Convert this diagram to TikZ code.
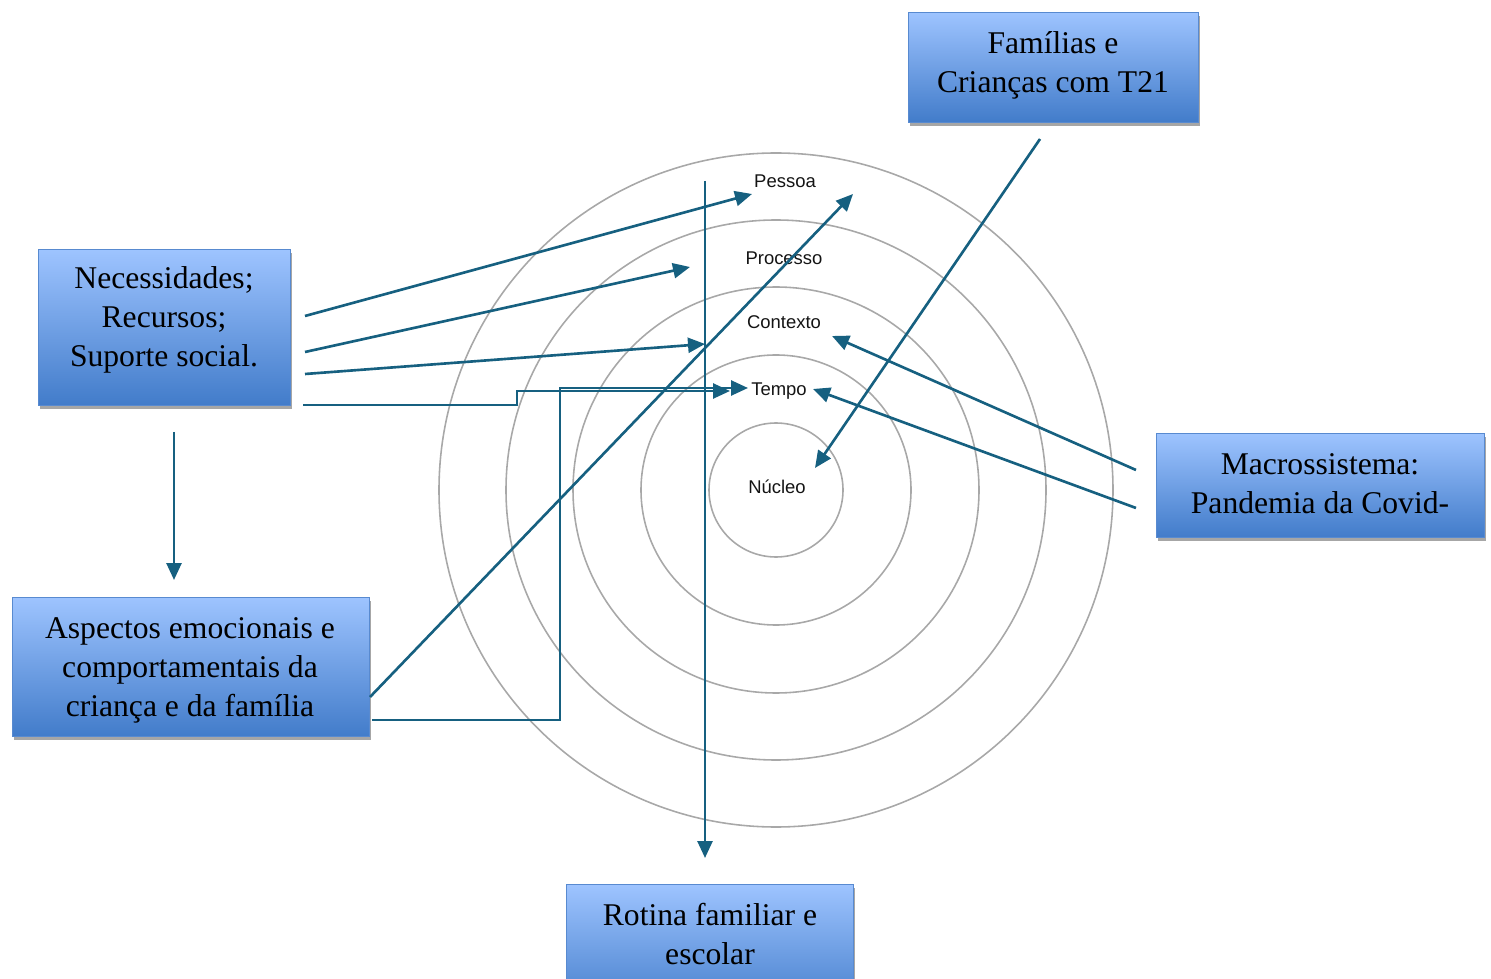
\documentclass[tikz,border=0pt]{standalone}
\usepackage{fontspec}
\setmainfont{Liberation Serif}
\setsansfont{Liberation Sans}
\usetikzlibrary{arrows.meta,shadows}
\definecolor{colorline}{RGB}{22 ,96 ,128}
\definecolor{colorring}{RGB}{168,168,168}
\definecolor{colortop} {RGB}{158,196,255}
\definecolor{colorbot} {RGB}{66 ,124,202}
\definecolor{colorbord}{RGB}{88 ,138,208}

\begin{document}
\begin{tikzpicture}[
    x=0.02cm, y=-0.02cm,
    box/.style={draw=colorbord,line width=0.5pt,top color=colortop,bottom color=colorbot,
        drop shadow={shadow xshift=0.04cm,shadow yshift=-0.08cm,fill=black!35,opacity=1},
        inner sep=0pt},
    txt/.style={font={\fontsize{18}{22.2}\selectfont},align=center,text=black,inner sep=0pt},
    lbl/.style={font={\sffamily\fontsize{10.5}{12}\selectfont},text=black!92,inner sep=1pt},
    ring/.style={draw=colorring,line width=0.9pt},
    lnk/.style={draw=colorline,line width=1.5pt,-{Triangle[length=0.34cm,width=0.3cm]}},
]
    \useasboundingbox (0,0) rectangle (1491,979);
    \clip (0,0) rectangle (1491,979);

    \coordinate (ctr) at (776,490);
    \draw[ring] (ctr) circle[radius=67];
    \draw[ring] (ctr) circle[radius=135];
    \draw[ring] (ctr) circle[radius=203];
    \draw[ring] (ctr) circle[radius=270];
    \draw[ring] (ctr) circle[radius=337];

    \node[lbl] (pessoa)   at (785,181) {Pessoa};
    \node[lbl] (processo) at (784,258) {Processo};
    \node[lbl] (contexto) at (784,322) {Contexto};
    \node[lbl] (tempo)    at (779,391) {Tempo};
    \node[lbl] (nucleo)   at (777,487) {Núcleo};

    \node[box,minimum width=5.80cm,minimum height=2.20cm] (fam) at (1053,67)    {};
    \node[box,minimum width=5.04cm,minimum height=3.12cm] (nec) at (164,327)    {};
    \node[box,minimum width=7.14cm,minimum height=2.78cm] (asp) at (190.5,666.5) {};
    \node[box,minimum width=6.56cm,minimum height=2.08cm] (mac) at (1320,485)   {};
    \node[box,minimum width=5.74cm,minimum height=2.60cm] (rot) at (709.5,949)  {};

    \node[txt] (famtxt) at (1053,65) {Famílias e\\Crianças com T21};
    \node[txt] (nectxt) at (164,320) {Necessidades;\\Recursos;\\Suporte social.};
    \node[txt] (asptxt) at (190,670) {Aspectos emocionais e\\comportamentais da\\criança e da família};
    \node[txt] (mactxt) at (1320,484) {Macrossistema:\\Pandemia da Covid-};
    \node[txt] (rottxt) at (710,934) {Rotina familiar e\\escolar};

    \coordinate (nec1) at (305,316);  \coordinate (to1) at (752,194);
    \coordinate (nec2) at (305,352);  \coordinate (to2) at (690,267);
    \coordinate (nec3) at (305,374);  \coordinate (to3) at (705,344);
    \coordinate (nec4) at (303,405);  \coordinate (bk4) at (517,391);  \coordinate (to4) at (730,391);
    \coordinate (nec5) at (174,432);  \coordinate (to5) at (174,580);
    \coordinate (asp1) at (370,697);  \coordinate (to6) at (853,194);
    \coordinate (asp2) at (372,720);  \coordinate (bk7) at (560,388);  \coordinate (to7) at (748,388);
    \coordinate (top1) at (705,181);  \coordinate (to8) at (705,858);
    \coordinate (fam1) at (1040,139); \coordinate (to9) at (815,468);
    \coordinate (mac1) at (1136,470); \coordinate (to10) at (832,336);
    \coordinate (mac2) at (1136,508); \coordinate (to11) at (813,389);

    \draw[lnk] (nec1) -- (to1);
    \draw[lnk] (nec2) -- (to2);
    \draw[lnk] (nec3) -- (to3);
    \draw[lnk] (nec4) -| (bk4) -- (to4);
    \draw[lnk] (nec5) -- (to5);
    \draw[lnk] (asp1) -- (to6);
    \draw[lnk] (asp2) -| (bk7) -- (to7);
    \draw[lnk] (top1) -- (to8);
    \draw[lnk] (fam1) -- (to9);
    \draw[lnk] (mac1) -- (to10);
    \draw[lnk] (mac2) -- (to11);

\end{tikzpicture}
\end{document}
